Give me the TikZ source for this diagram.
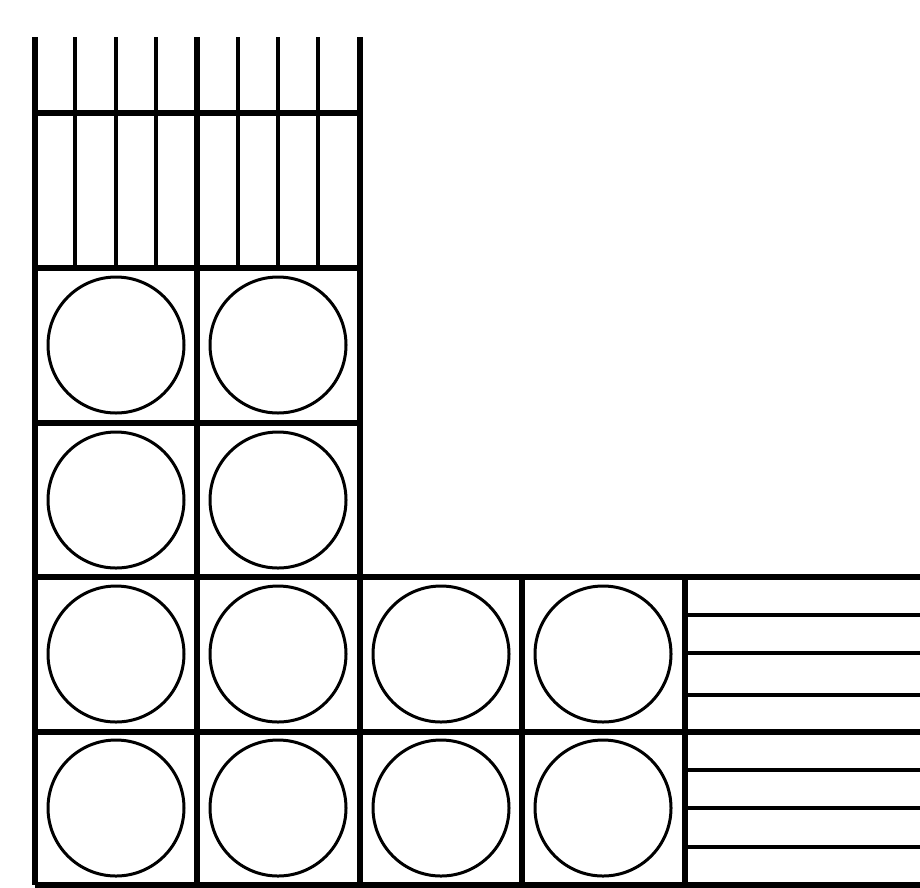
\documentclass[tikz,border=0pt]{standalone}
\tikzset{
  wall/.style={line width=1.9pt},
  slat/.style={line width=1.2pt},
  pipe/.style={line width=0.9pt}
}
\begin{document}
\begin{tikzpicture}[x=0.3pt,y=-0.3pt]
\useasboundingbox (0,0) rectangle (920,887);

% tubes in the cells
\foreach \cx/\cy in {116/345,278/345,116/500,278/500,
  116/654,278/654,441/654,603/654,116/808,278/808,441/808,603/808}
  \draw[pipe] (\cx,\cy) circle (68);

% vertical slats on top
\foreach \sx in {75,116,156,238,278,318}
  \draw[slat] (\sx,37) -- (\sx,268);

% horizontal slats on the right
\foreach \sy in {615,653,695,770,808,847}
  \draw[slat] (685,\sy) -- (920,\sy);

% walls
\draw[wall] (35,37) -- (35,885);
\draw[wall] (197,37) -- (197,885);
\draw[wall] (360,37) -- (360,885);
\draw[wall] (522,577) -- (522,885);
\draw[wall] (685,577) -- (685,885);

\draw[wall] (35,113) -- (360,113);
\draw[wall] (35,268) -- (360,268);
\draw[wall] (35,423) -- (360,423);
\draw[wall] (35,577) -- (920,577);
\draw[wall] (35,732) -- (920,732);
\draw[wall] (35,885) -- (920,885);

\end{tikzpicture}
\end{document}
